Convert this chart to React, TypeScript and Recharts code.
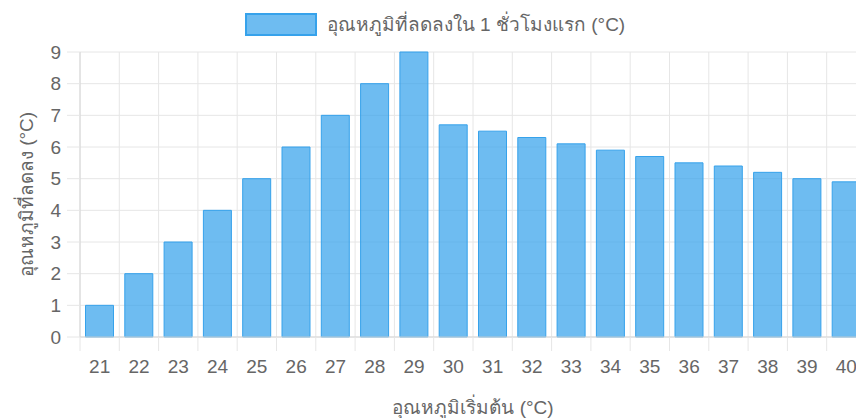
import React from "react";
import {
  Bar,
  BarChart,
  CartesianGrid,
  Label,
  Legend,
  XAxis,
  YAxis,
} from "recharts";

// Starting temperature (°C) vs. drop in the first hour (°C)
const startTemps = [21, 22, 23, 24, 25, 26, 27, 28, 29, 30, 31, 32, 33, 34, 35, 36, 37, 38, 39, 40];
const drops = [1, 2, 3, 4, 5, 6, 7, 8, 9, 6.7, 6.5, 6.3, 6.1, 5.9, 5.7, 5.5, 5.4, 5.2, 5.0, 4.9];
const yTicks = [0, 1, 2, 3, 4, 5, 6, 7, 8, 9];

const SERIES_NAME = "อุณหภูมิที่ลดลงใน 1 ชั่วโมงแรก (°C)";
const X_TITLE = "อุณหภูมิเริ่มต้น (°C)";
const Y_TITLE = "อุณหภูมิที่ลดลง (°C)";

const FONT = '"Liberation Sans", Arial, Helvetica, sans-serif';
const INK = "#666";
const GRID = "#e6e6e6";
const AXIS = "#d6d6d6";
const BLUE = "rgb(54, 162, 235)";
const BLUE_FILL = "rgba(54, 162, 235, 0.72)";

const data = startTemps.map((t, i) => ({ t: String(t), drop: drops[i] }));

const X_TICK_SIZE = 14;
const X_TICK_MARGIN = 9;
const LEGEND_H = 26;

// category label plus a tick mark on the band's left edge (offset grid look)
function XTick(props: any) {
  const { x, y, payload } = props;
  const half = payload?.offset ?? 0;
  const lx = x - half;
  return (
    <g>
      <line
        x1={lx}
        x2={lx}
        y1={y - X_TICK_SIZE - X_TICK_MARGIN}
        y2={y - X_TICK_MARGIN}
        stroke={GRID}
      />
      <text x={x} y={y} dy="0.71em" textAnchor="middle" fill={INK} fontSize={19} fontFamily={FONT}>
        {payload.value}
      </text>
    </g>
  );
}

function LegendBox() {
  return (
    <div
      style={{
        display: "flex",
        alignItems: "center",
        justifyContent: "center",
        height: LEGEND_H,
        fontFamily: FONT,
        fontSize: 19,
        color: INK,
      }}
    >
      <span
        style={{
          display: "inline-block",
          width: 68,
          height: 19,
          background: BLUE_FILL,
          border: `2px solid ${BLUE}`,
          marginRight: 10,
        }}
      />
      <span>{SERIES_NAME}</span>
    </div>
  );
}

export default function App() {
  const n = startTemps.length;
  return (
    <div
      style={{
        position: "absolute",
        left: 0,
        top: 0,
        width: 856,
        height: 418,
        overflow: "hidden",
        background: "#fff",
      }}
    >
      <BarChart
        width={870}
        height={418}
        data={data}
        margin={{ top: 52 - LEGEND_H, right: 4, bottom: 0, left: 0 }}
        barCategoryGap="14%"
      >
        <Legend
          verticalAlign="top"
          align="center"
          content={() => <LegendBox />}
          wrapperStyle={{ top: 11, left: 0, width: 870 }}
        />
        <CartesianGrid
          stroke={GRID}
          verticalCoordinatesGenerator={({ offset }: any) =>
            Array.from({ length: n + 1 }, (_, i) => offset.left + (i * offset.width) / n)
          }
        />
        <XAxis
          dataKey="t"
          height={81}
          interval={0}
          tickSize={X_TICK_SIZE}
          tickMargin={X_TICK_MARGIN}
          tickLine={false}
          tick={<XTick />}
          axisLine={{ stroke: AXIS }}
        >
          <Label
            value={X_TITLE}
            position="insideBottom"
            offset={4}
            fill={INK}
            fontSize={19}
            fontFamily={FONT}
            style={{ fill: INK }}
          />
        </XAxis>
        <YAxis
          domain={[0, 9]}
          ticks={yTicks}
          width={80}
          tickSize={13}
          tickMargin={6}
          tickLine={{ stroke: GRID }}
          axisLine={{ stroke: AXIS }}
          tick={{ fill: INK, fontSize: 19, fontFamily: FONT }}
        >
          <Label
            value={Y_TITLE}
            angle={-90}
            position="insideLeft"
            offset={26}
            fontSize={19}
            fontFamily={FONT}
            style={{ textAnchor: "middle", fill: INK }}
          />
        </YAxis>
        <Bar
          dataKey="drop"
          name={SERIES_NAME}
          fill={BLUE_FILL}
          stroke={BLUE}
          strokeWidth={1}
          isAnimationActive={false}
        />
      </BarChart>
    </div>
  );
}
